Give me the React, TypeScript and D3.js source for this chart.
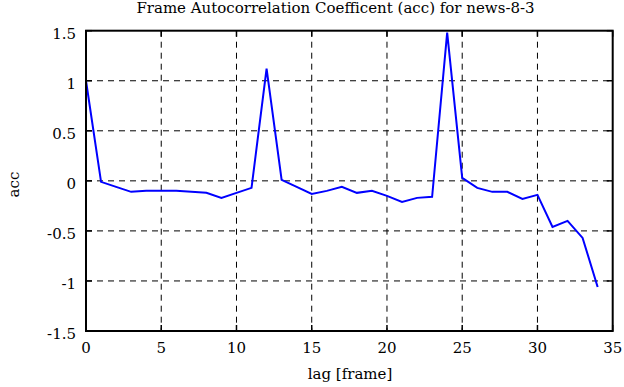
import React from "react";
import * as d3 from "d3";

const lags = d3.range(0, 35);
const acc = [1.0, -0.01, -0.06, -0.11, -0.1, -0.1, -0.1, -0.11, -0.12, -0.17, -0.12, -0.07, 1.12, 0.01, -0.06, -0.13, -0.1, -0.06, -0.12, -0.1, -0.15, -0.21, -0.17, -0.16, 1.48, 0.03, -0.07, -0.11, -0.11, -0.18, -0.14, -0.46, -0.4, -0.57, -1.06];
const xTicks = [0, 5, 10, 15, 20, 25, 30, 35];
const yTicks = [-1.5, -1, -0.5, 0, 0.5, 1, 1.5];
const title = "Frame Autocorrelation Coefficent (acc) for news-8-3";
const xLabel = "lag [frame]";
const yLabel = "acc";

export default function App() {
  const W = 624, H = 387;
  const L = 86, R = 612.7, T = 30.7, B = 331;
  const x = d3.scaleLinear().domain([0, 35]).range([L, R]);
  const y = d3.scaleLinear().domain([-1.5, 1.5]).range([B, T]);
  const line = d3.line<number>().x((_, i) => x(lags[i])).y((d) => y(d));
  const font = "'DejaVu Serif', 'Liberation Serif', serif";
  const ts = { fontFamily: font, fontSize: "15px" } as React.CSSProperties;
  return (
    <svg width={W} height={H} style={{ position: "absolute", left: 0, top: 0 }}>
      <rect width={W} height={H} fill="white" />
      {xTicks.slice(1, -1).map((t) => (
        <line key={"gx" + t} x1={x(t)} x2={x(t)} y1={T} y2={B} stroke="black" strokeWidth={1} strokeDasharray="6,5" />
      ))}
      {yTicks.slice(1, -1).map((t) => (
        <line key={"gy" + t} x1={L} x2={R} y1={y(t)} y2={y(t)} stroke="black" strokeWidth={1} strokeDasharray="6,5" />
      ))}
      {xTicks.map((t) => (
        <g key={"tx" + t}>
          <line x1={x(t)} x2={x(t)} y1={B} y2={B - 6} stroke="black" strokeWidth={1.5} />
          <line x1={x(t)} x2={x(t)} y1={T} y2={T + 6} stroke="black" strokeWidth={1.5} />
          <text x={x(t)} y={B + 22} style={ts} textAnchor="middle">{t}</text>
        </g>
      ))}
      {yTicks.map((t) => (
        <g key={"ty" + t}>
          <line x1={L} x2={L + 6} y1={y(t)} y2={y(t)} stroke="black" strokeWidth={1.5} />
          <line x1={R} x2={R - 6} y1={y(t)} y2={y(t)} stroke="black" strokeWidth={1.5} />
          <text x={76} y={y(t) + 8} style={ts} textAnchor="end">{t}</text>
        </g>
      ))}
      <path d={line(acc) || ""} fill="none" stroke="#0000ff" strokeWidth={2} />
      <rect x={L} y={T} width={R - L} height={B - T} fill="none" stroke="black" strokeWidth={2} />
      <text x={335.5} y={13} style={ts} textAnchor="middle">{title}</text>
      <text x={350} y={379} style={ts} textAnchor="middle">{xLabel}</text>
      <text x={0} y={0} style={ts} textAnchor="middle" transform={`translate(19,184.5) rotate(-90)`}>{yLabel}</text>
    </svg>
  );
}
